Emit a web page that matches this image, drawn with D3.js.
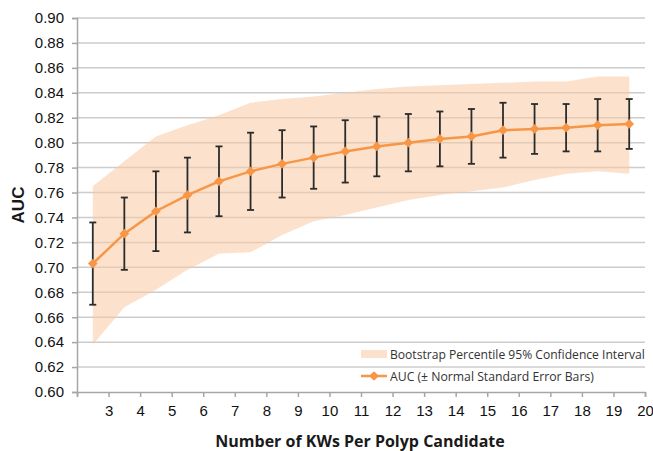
<!DOCTYPE html>
<html><head><meta charset="utf-8">
<script src="https://cdn.jsdelivr.net/npm/d3@7"></script>
<style>body{margin:0;background:#fff}svg{display:block}</style>
</head><body>
<script>
const kws = [2.5,3.5,4.5,5.5,6.5,7.5,8.5,9.5,10.5,11.5,12.5,13.5,14.5,15.5,16.5,17.5,18.5,19.5];
const auc = [0.703,0.727,0.745,0.758,0.769,0.777,0.783,0.788,0.793,0.797,0.800,0.803,0.805,0.810,0.811,0.812,0.814,0.815];
const stdErr = [0.033,0.029,0.032,0.030,0.028,0.031,0.027,0.025,0.025,0.024,0.023,0.022,0.022,0.022,0.020,0.019,0.021,0.020];
const ciUpper = [0.765,0.785,0.805,0.814,0.822,0.832,0.835,0.837,0.840,0.843,0.845,0.846,0.847,0.848,0.849,0.849,0.853,0.853];
const ciLower = [0.638,0.668,0.682,0.698,0.711,0.712,0.726,0.737,0.742,0.748,0.754,0.758,0.761,0.764,0.770,0.775,0.777,0.775];
const yTicks = [0.60,0.62,0.64,0.66,0.68,0.70,0.72,0.74,0.76,0.78,0.80,0.82,0.84,0.86,0.88,0.90];
const xTicks = [3,4,5,6,7,8,9,10,11,12,13,14,15,16,17,18,19,20];
const xAxisTicks = [2,3,4,5,6,7,8,9,10,11,12,13,14,15,16,17,18,19,20];
const legendLabels = ["Bootstrap Percentile 95% Confidence Interval","AUC (± Normal Standard Error Bars)"];

const W = 653, H = 451;
const svg = d3.select("body").append("svg").attr("width", W).attr("height", H);
const x = d3.scaleLinear().domain([2,20]).range([77,645]);
const y = d3.scaleLinear().domain([0.6,0.9]).range([392,18]);
const data = kws.map((k,i)=>({k, v:auc[i], se:stdErr[i], lo:ciLower[i], hi:ciUpper[i]}));

// gridlines
svg.append("g").selectAll("line").data(yTicks.slice(1)).join("line")
  .attr("x1", x(2)).attr("x2", x(20)).attr("y1", d=>y(d)).attr("y2", d=>y(d))
  .attr("stroke", "#cccccc").attr("stroke-width", 1.5);

// confidence band
svg.append("path").datum(data)
  .attr("d", d3.area().x(d=>x(d.k)).y0(d=>y(d.lo)).y1(d=>y(d.hi)))
  .attr("fill", "#f9c9a3").attr("fill-opacity", 0.55);

// y axis
const yAxis = svg.append("g").attr("transform", `translate(${x(2)},0)`)
  .call(d3.axisLeft(y).tickValues(yTicks).tickFormat(d3.format(".2f")).tickSize(5).tickPadding(8));
yAxis.select(".domain").attr("stroke", "#a6a6a6").attr("stroke-width", 1.5);
yAxis.selectAll(".tick line").attr("stroke", "#a6a6a6").attr("stroke-width", 1.5);
yAxis.selectAll("text").attr("font-family", "Liberation Sans, Arial, sans-serif").attr("font-size", 15).attr("fill", "#111");

// x axis
const xAxis = svg.append("g").attr("transform", `translate(0,${y(0.6)})`)
  .call(d3.axisBottom(x).tickValues(xAxisTicks).tickFormat(d=> xTicks.includes(d) ? d : "").tickSize(5).tickPadding(8));
xAxis.select(".domain").attr("stroke", "#a6a6a6").attr("stroke-width", 1.5);
xAxis.selectAll(".tick line").attr("stroke", "#a6a6a6").attr("stroke-width", 1.5);
xAxis.selectAll("text").attr("font-family", "Liberation Sans, Arial, sans-serif").attr("font-size", 15).attr("fill", "#111");

// error bars
const eb = svg.append("g").attr("stroke", "#2b2b2b").attr("stroke-width", 1.8);
eb.selectAll("line.v").data(data).join("line").attr("class","v")
  .attr("x1", d=>x(d.k)).attr("x2", d=>x(d.k)).attr("y1", d=>y(d.v+d.se)).attr("y2", d=>y(d.v-d.se));
eb.selectAll("line.t").data(data).join("line").attr("class","t")
  .attr("x1", d=>x(d.k)-3.5).attr("x2", d=>x(d.k)+3.5).attr("y1", d=>y(d.v+d.se)).attr("y2", d=>y(d.v+d.se));
eb.selectAll("line.b").data(data).join("line").attr("class","b")
  .attr("x1", d=>x(d.k)-3.5).attr("x2", d=>x(d.k)+3.5).attr("y1", d=>y(d.v-d.se)).attr("y2", d=>y(d.v-d.se));

// line
svg.append("path").datum(data)
  .attr("d", d3.line().x(d=>x(d.k)).y(d=>y(d.v)))
  .attr("fill", "none").attr("stroke", "#f79646").attr("stroke-width", 2.5);
const diamond = d3.symbol().type(d3.symbolDiamond2).size(60);
svg.append("g").selectAll("path").data(data).join("path")
  .attr("transform", d=>`translate(${x(d.k)},${y(d.v)})`).attr("d", diamond).attr("fill", "#f79646");

// legend
const lg = svg.append("g");
lg.append("rect").attr("x", 361).attr("y", 350).attr("width", 26).attr("height", 8)
  .attr("fill", "#f9c9a3").attr("fill-opacity", 0.55);
lg.append("line").attr("x1", 361).attr("x2", 387).attr("y1", 376).attr("y2", 376)
  .attr("stroke", "#f79646").attr("stroke-width", 2.5);
lg.append("path").attr("transform", "translate(374,376)").attr("d", diamond).attr("fill", "#f79646");
const targetW = [255, 204];
legendLabels.forEach((lab, i) => {
  const g = lg.append("g");
  const t = g.append("text").attr("x", 0).attr("y", 0)
    .attr("font-family", "Open Sans, sans-serif").attr("font-size", 13).attr("fill", "#333").text(lab);
  const nat = t.node().getComputedTextLength();
  const s = Math.min(1, targetW[i] / nat);
  g.attr("transform", `translate(390,${359 + i*22}) scale(${s},1)`);
});

// axis titles
svg.append("text").attr("x", 360).attr("y", 447).attr("text-anchor", "middle")
  .attr("font-family", "Open Sans, sans-serif").attr("font-weight", "bold").attr("font-size", 16)
  .attr("fill", "#1a1a1a").text("Number of KWs Per Polyp Candidate");
svg.append("text").attr("transform", "translate(24,205) rotate(-90)").attr("text-anchor", "middle")
  .attr("font-family", "Liberation Sans, Arial, sans-serif").attr("font-weight", "bold").attr("font-size", 17)
  .attr("fill", "#1a1a1a").text("AUC");
</script>
</body></html>
